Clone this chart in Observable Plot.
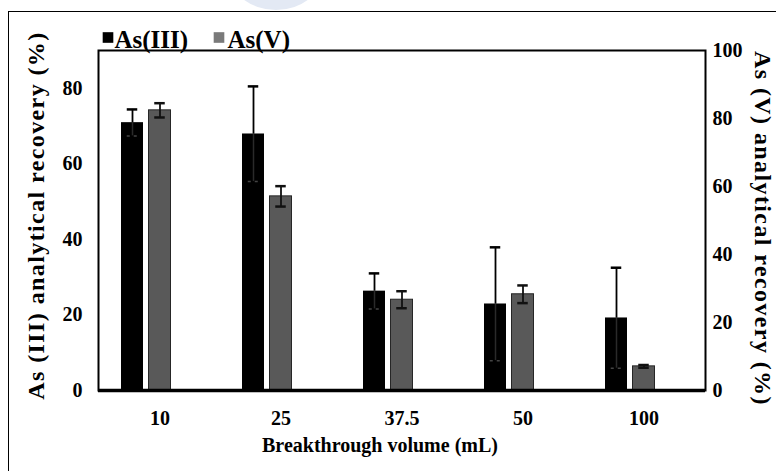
<!DOCTYPE html>
<html>
<head>
<meta charset="utf-8">
<script src="https://cdn.jsdelivr.net/npm/d3@7"></script>
<script src="https://cdn.jsdelivr.net/npm/@observablehq/plot@0.6"></script>
<style>
  html, body { margin: 0; padding: 0; background: #fff; }
  #wrap { position: relative; width: 776px; height: 471px; overflow: hidden; }
  #border { position: absolute; left: 8px; top: 11px; width: 800px; height: 500px;
            border-left: 1.5px solid #000; border-top: 1.5px solid #000; }
  #mark { position: absolute; left: 228px; top: -70px; width: 96px; height: 80px;
          border-radius: 50%; background: #e3e9f4; }
  #chart { position: absolute; left: 0; top: 0; }
</style>
</head>
<body>
<div id="wrap">
  <div id="mark"></div>
  <div id="border"></div>
  <div id="chart"></div>
</div>
<script>
// ---- data ----
const categories = ["10", "25", "37.5", "50", "100"];
const seriesNames = ["As(III)", "As(V)"];
const as3 = [70.9, 67.9, 26.3, 22.9, 19.2];      // left axis (%)
const as3Err = [3.5, 12.6, 4.7, 15.0, 13.3];
const as5 = [82.4, 57.1, 26.7, 28.3, 7.1];       // right axis (%)
const as5Err = [2.1, 3.0, 2.5, 2.6, 0.4];
const leftTicks = [0, 20, 40, 60, 80];
const rightTicks = [0, 20, 40, 60, 80, 100];
const leftMax = 90, rightMax = 100;
const xTitle = "Breakthrough volume (mL)";
const leftTitle = "As (III) analytical recovery (%)";
const rightTitle = "As (V) analytical recovery (%)";

const k = leftMax / rightMax; // maps right-axis values onto the left scale
const rows3 = categories.map((c, i) => ({cat: c, v: as3[i], e: as3Err[i]}));
const rows5 = categories.map((c, i) => ({cat: c, v: as5[i] * k, e: as5Err[i] * k}));

const serif = "'Liberation Serif', 'Times New Roman', serif";

const chart = Plot.plot({
  width: 776,
  height: 471,
  marginLeft: 98,
  marginRight: 71,
  marginTop: 50,
  marginBottom: 81,
  style: {fontFamily: serif, fontWeight: "bold", fontSize: "19px", color: "#000", background: "transparent", overflow: "visible"},
  x: {domain: categories, paddingInner: 0.363, paddingOuter: 0.1815},
  y: {domain: [0, leftMax]},
  marks: [
    // bars
    Plot.barY(rows3, {x: "cat", y: "v", fill: "#000", insetRight: 55}),
    Plot.barY(rows5, {x: "cat", y: "v", fill: "#595959", stroke: "#262626", strokeWidth: 1, insetLeft: 27.5, insetRight: 27.5}),
    // As(III) error bars
    Plot.ruleX(rows3, {x: "cat", y1: d => d.v - d.e, y2: d => d.v, dx: -27.5, stroke: "#2a2a2a", strokeWidth: 1.5}),
    Plot.ruleX(rows3, {x: "cat", y1: d => d.v, y2: d => d.v + d.e, dx: -27.5, stroke: "#000", strokeWidth: 1.8}),
    Plot.tickY(rows3, {x: "cat", y: d => d.v + d.e, insetLeft: 5.75, insetRight: 60.75, stroke: "#000", strokeWidth: 2.5}),
    Plot.tickY(rows3, {x: "cat", y: d => d.v - d.e, insetLeft: 5.75, insetRight: 60.75, stroke: "#444", strokeWidth: 1.5, strokeDasharray: "3,4"}),
    // As(V) error bars
    Plot.ruleX(rows5, {x: "cat", y1: d => d.v - d.e, y2: d => d.v + d.e, stroke: "#111", strokeWidth: 1.8}),
    Plot.tickY(rows5, {x: "cat", y: d => d.v + d.e, insetLeft: 33.25, insetRight: 33.25, stroke: "#111", strokeWidth: 2.5}),
    Plot.tickY(rows5, {x: "cat", y: d => d.v - d.e, insetLeft: 33.25, insetRight: 33.25, stroke: "#111", strokeWidth: 2.5}),
    // frame
    Plot.frame({stroke: "#000", strokeWidth: 2}),
    Plot.ruleY([0], {stroke: "#000", strokeWidth: 3.5}),
    // axes
    Plot.axisY({anchor: "left", ticks: leftTicks, tickSize: 0, tickPadding: 16, label: null, fontSize: 20}),
    Plot.axisY({anchor: "right", ticks: rightTicks.map(t => t * k), tickFormat: d => Math.round(d / k), tickSize: 0, tickPadding: 7, label: null, fontSize: 20}),
    Plot.axisX({anchor: "bottom", tickSize: 0, tickPadding: 20, label: null, fontSize: 20}),
    // axis titles
    Plot.text([xTitle], {text: d => d, frameAnchor: "bottom", textAnchor: "middle", lineAnchor: "middle", dx: -22, dy: 55, fontSize: 20, fontWeight: "bold"}),
    Plot.text([leftTitle], {text: d => d, frameAnchor: "left", textAnchor: "middle", lineAnchor: "middle", rotate: -90, dx: -62, dy: -5, fontSize: 24, fontWeight: "bold", className: "vtitle"}),
    Plot.text([rightTitle], {text: d => d, frameAnchor: "right", textAnchor: "middle", lineAnchor: "middle", rotate: 90, dx: 57, dy: 8, fontSize: 24, fontWeight: "bold", className: "vtitle"}),
    // legend
    Plot.dot([seriesNames[0]], {frameAnchor: "top-left", dx: 9.5, dy: -13, symbol: "square", r: 6, fill: "#000", stroke: "none"}),
    Plot.text([seriesNames[0]], {text: d => d, frameAnchor: "top-left", textAnchor: "start", lineAnchor: "middle", dx: 16, dy: -11, fontSize: 25, fontWeight: "bold"}),
    Plot.dot([seriesNames[1]], {frameAnchor: "top-left", dx: 120.5, dy: -13, symbol: "square", r: 6, fill: "#7a7a7a", stroke: "none"}),
    Plot.text([seriesNames[1]], {text: d => d, frameAnchor: "top-left", textAnchor: "start", lineAnchor: "middle", dx: 129, dy: -11, fontSize: 25, fontWeight: "bold"})
  ]
});
// stretch the vertical titles along their length, as in the reference
d3.select(chart).selectAll(".vtitle text").attr("letter-spacing", "1.4px");
document.getElementById("chart").appendChild(chart);
</script>
</body>
</html>
